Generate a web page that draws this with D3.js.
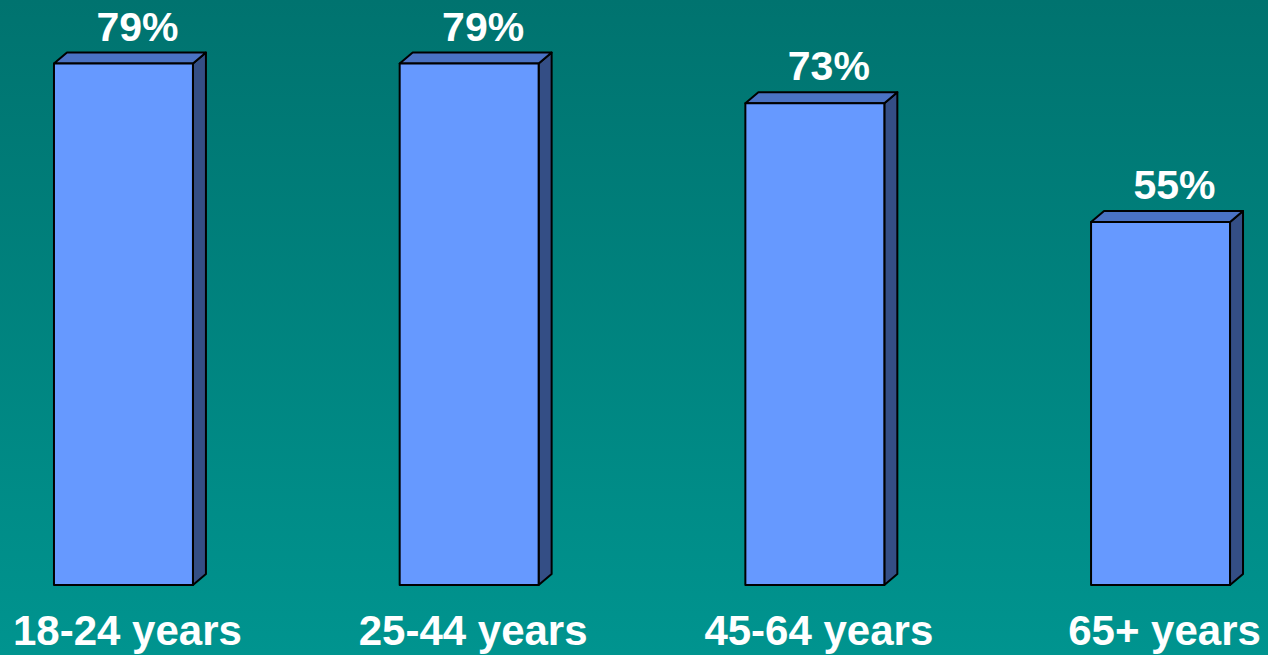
<!DOCTYPE html>
<html>
<head>
<meta charset="utf-8">
<script src="https://cdn.jsdelivr.net/npm/d3@7"></script>
<style>
  html, body { margin: 0; padding: 0; overflow: hidden; }
  svg { display: block; }
</style>
</head>
<body>
<script>
// Share of respondents by age group
const categories = ["18-24 years", "25-44 years", "45-64 years", "65+ years"];
const values = [79, 79, 73, 55];

const width = 1268, height = 655;
const baseline = 585;
const depthX = 13, depthY = 11;

const svg = d3.select("body").append("svg")
  .attr("width", width)
  .attr("height", height);

// Background gradient
const defs = svg.append("defs");
const grad = defs.append("linearGradient")
  .attr("id", "bg").attr("x1", 0).attr("y1", 0).attr("x2", 0).attr("y2", 1);
grad.append("stop").attr("offset", "0%").attr("stop-color", "#00736f");
grad.append("stop").attr("offset", "100%").attr("stop-color", "#00948f");
svg.append("rect").attr("width", width).attr("height", height).attr("fill", "url(#bg)");

const x = d3.scaleBand()
  .domain(categories)
  .range([8, 1276])
  .paddingInner(0.598)
  .paddingOuter(0.133);

const y = d3.scaleLinear()
  .domain([0, 100])
  .range([baseline, baseline - 660]);

const data = categories.map((c, i) => ({ cat: c, value: values[i] }));
const bw = x.bandwidth();

const g = svg.append("g").attr("stroke", "#000").attr("stroke-width", 2).attr("stroke-linejoin", "round");

const bars = g.selectAll("g.bar").data(data).join("g").attr("class", "bar");

// Right side face
bars.append("path")
  .attr("fill", "#344e85")
  .attr("d", d => {
    const x1 = x(d.cat) + bw, yt = y(d.value);
    return `M${x1},${yt} L${x1 + depthX},${yt - depthY} L${x1 + depthX},${baseline - depthY} L${x1},${baseline} Z`;
  });

// Top face
bars.append("path")
  .attr("fill", "#4a72c4")
  .attr("d", d => {
    const x0 = x(d.cat), yt = y(d.value);
    return `M${x0},${yt} L${x0 + depthX},${yt - depthY} L${x0 + bw + depthX},${yt - depthY} L${x0 + bw},${yt} Z`;
  });

// Front face
bars.append("rect")
  .attr("fill", "#6699ff")
  .attr("x", d => x(d.cat))
  .attr("y", d => y(d.value))
  .attr("width", bw)
  .attr("height", d => baseline - y(d.value));

// Value labels
svg.selectAll("text.value").data(data).join("text")
  .attr("class", "value")
  .attr("x", d => x(d.cat) + bw / 2 + 14)
  .attr("y", d => y(d.value) - 23)
  .attr("text-anchor", "middle")
  .attr("fill", "#fff")
  .attr("font-family", "Liberation Sans, Arial, sans-serif")
  .attr("font-weight", "bold")
  .attr("font-size", 41)
  .text(d => d.value + "%");

// Category labels
svg.selectAll("text.cat").data(data).join("text")
  .attr("class", "cat")
  .attr("x", d => x(d.cat) + bw / 2 + 4)
  .attr("y", 645)
  .attr("text-anchor", "middle")
  .attr("fill", "#fff")
  .attr("font-family", "Liberation Sans, Arial, sans-serif")
  .attr("font-weight", "bold")
  .attr("font-size", 42)
  .text(d => d.cat);
</script>
</body>
</html>
